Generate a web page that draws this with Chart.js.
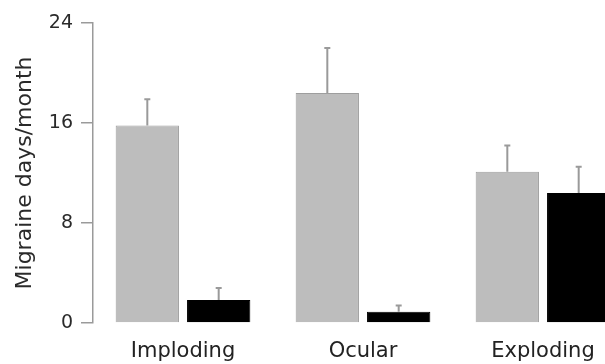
<!DOCTYPE html>
<html>
<head>
<meta charset="utf-8">
<script src="https://cdn.jsdelivr.net/npm/chart.js@4/dist/chart.umd.min.js"></script>
<style>
  html, body { margin: 0; padding: 0; background: #fff; overflow: hidden; }
  #wrap { width: 633px; height: 364px; }
</style>
</head>
<body>
<div id="wrap"><canvas id="migraineChart"></canvas></div>
<script>
const categories = ['Imploding', 'Ocular', 'Exploding'];
const greyValues = [15.8, 18.4, 12.1];
const greyErrors = [2.1, 3.6, 2.1];
const blackValues = [1.85, 0.9, 10.4];
const blackErrors = [0.95, 0.5, 2.1];
const yTicks = [0, 8, 16, 24];

// draws the upper error whiskers on top of each bar
const errorBars = {
    id: 'errorBars',
    afterDatasetsDraw(chart) {
        const ctx = chart.ctx;
        const yScale = chart.scales.y;
        chart.data.datasets.forEach((ds, i) => {
            const meta = chart.getDatasetMeta(i);
            meta.data.forEach((bar, j) => {
                const top = yScale.getPixelForValue(ds.data[j] + ds.errors[j]);
                ctx.save();
                ctx.strokeStyle = '#9a9a9a';
                ctx.lineWidth = 2;
                ctx.beginPath();
                ctx.moveTo(bar.x, bar.y);
                ctx.lineTo(bar.x, top);
                ctx.moveTo(bar.x - 3, top);
                ctx.lineTo(bar.x + 3, top);
                ctx.stroke();
                ctx.restore();
            });
        });
    }
};

const ctx = document.getElementById('migraineChart').getContext('2d');
new Chart(ctx, {
    type: 'bar',
    data: {
        labels: categories,
        datasets: [
            {
                label: 'Grey',
                data: greyValues,
                errors: greyErrors,
                backgroundColor: '#bdbdbd',
                borderColor: '#9e9e9e',
                borderWidth: 1
            },
            {
                label: 'Black',
                data: blackValues,
                errors: blackErrors,
                backgroundColor: '#000',
                borderColor: '#000',
                borderWidth: 1
            }
        ]
    },
    options: {
        responsive: true,
        maintainAspectRatio: false,
        animation: false,
        categoryPercentage: 0.793,
        barPercentage: 0.887,
        layout: { padding: { top: 23, left: 0, right: 0, bottom: 0 } },
        plugins: {
            legend: { display: false },
            tooltip: { enabled: false }
        },
        scales: {
            x: {
                grid: { display: false },
                border: { display: false },
                ticks: {
                    color: '#222',
                    padding: 8,
                    font: { family: 'DejaVu Sans', size: 21 }
                },
                afterFit: s => { s.height = 41; }
            },
            y: {
                min: 0,
                max: 24,
                afterBuildTicks: s => { s.ticks = yTicks.map(v => ({ value: v })); },
                grid: {
                    drawOnChartArea: false,
                    drawTicks: true,
                    tickLength: 12,
                    color: '#9a9a9a',
                    lineWidth: 1.5
                },
                border: { display: true, color: '#9a9a9a', width: 1.5 },
                ticks: {
                    color: '#2a2a2a',
                    padding: 8,
                    font: { family: 'DejaVu Sans', size: 19 }
                },
                title: {
                    display: true,
                    text: 'Migraine days/month',
                    color: '#2a2a2a',
                    padding: { top: 12, bottom: 0 },
                    font: { family: 'DejaVu Sans', size: 22 }
                },
                afterFit: s => { s.width = 93; }
            }
        }
    },
    plugins: [errorBars]
});
</script>
</body>
</html>
